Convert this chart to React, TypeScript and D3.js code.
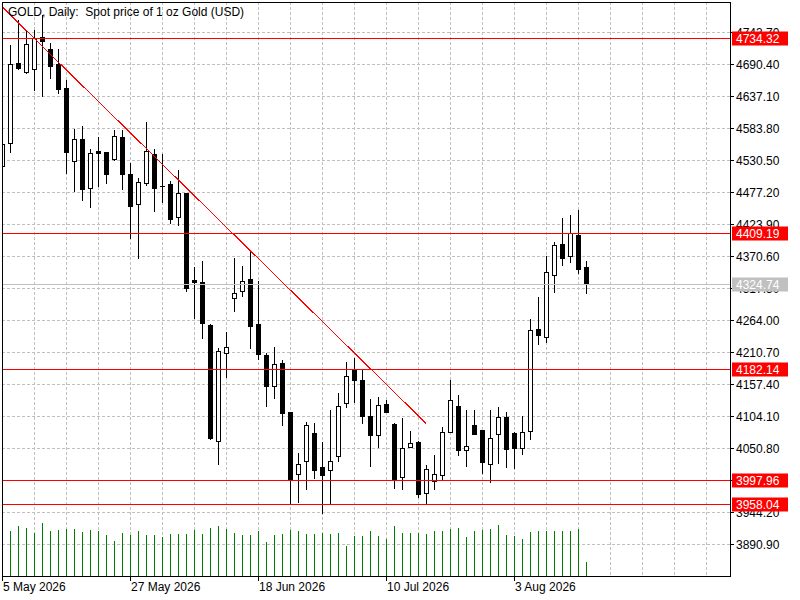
import * as d3 from "d3";

// daily OHLC, first bar = 5 May 2026
const opens = [
  4521.0, 4558.8, 4693.1, 4678.1, 4682.1, 4735.4, 4715.9, 4690.9, 4650.9, 4528.8,
  4566.0, 4483.9, 4546.0, 4544.3, 4532.2, 4569.3, 4508.2, 4457.2, 4493.2, 4541.0,
  4487.7, 4491.0, 4435.6, 4476.5, 4330.6, 4327.3, 4256.7, 4062.5, 4209.0, 4300.6,
  4312.3, 4332.8, 4257.8, 4206.2, 4155.1, 4192.9, 4110.8, 4007.5, 4029.2, 4075.8,
  4019.7, 4014.2, 4038.5, 4125.8, 4181.7, 4164.6, 4104.6, 4073.5, 4124.6, 4091.3,
  4002.5, 4052.5, 4061.3, 3976.9, 3995.8, 4006.8, 4078.5, 4120.8, 4048.5, 4089.1,
  4081.3, 4025.2, 4074.1, 4102.9, 4076.3, 4051.8, 4079.1, 4249.5, 4235.7, 4340.0,
  4391.6, 4371.6, 4406.1, 4352.8,
];
const highs = [
  4564.3, 4724.2, 4765.9, 4747.5, 4748.7, 4774.2, 4728.0, 4718.1, 4665.4, 4584.3,
  4589.3, 4550.5, 4571.0, 4546.0, 4582.1, 4582.1, 4527.7, 4502.2, 4596.0, 4551.0,
  4543.2, 4497.7, 4516.0, 4476.5, 4355.0, 4364.5, 4259.0, 4220.0, 4246.2, 4369.9,
  4356.1, 4382.3, 4331.1, 4211.2, 4221.2, 4199.0, 4112.9, 4044.2, 4096.8, 4095.1,
  4063.5, 4116.3, 4145.1, 4196.2, 4203.4, 4182.4, 4134.1, 4137.9, 4132.4, 4094.6,
  4102.9, 4081.3, 4064.1, 4024.7, 4041.3, 4087.9, 4166.2, 4141.2, 4116.3, 4115.8,
  4081.3, 4116.3, 4121.8, 4113.4, 4080.1, 4106.3, 4268.3, 4304.5, 4372.8, 4396.6,
  4436.6, 4441.1, 4449.4, 4364.5,
];
const lows = [
  4517.7, 4544.8, 4683.1, 4676.4, 4647.6, 4638.1, 4668.1, 4643.1, 4509.8, 4479.9,
  4464.4, 4453.2, 4488.2, 4492.2, 4531.0, 4482.2, 4401.6, 4367.3, 4489.4, 4446.6,
  4461.5, 4425.6, 4422.7, 4313.3, 4268.3, 4235.0, 4066.8, 4024.2, 4170.1, 4279.5,
  4305.0, 4218.3, 4200.0, 4121.8, 4135.1, 4090.1, 3959.2, 3961.9, 3982.5, 4000.8,
  3942.5, 3960.2, 4030.2, 4120.1, 4128.4, 4092.4, 4021.8, 4053.5, 4111.8, 3985.2,
  3983.5, 4052.5, 3970.2, 3958.5, 3982.5, 3998.0, 4078.5, 4039.6, 4021.3, 4075.1,
  4010.2, 3995.2, 4026.8, 4020.2, 4018.5, 4041.8, 4065.8, 4224.0, 4228.4, 4311.6,
  4356.6, 4361.6, 4343.3, 4310.0,
];
const closes = [
  4557.7, 4690.4, 4684.7, 4723.7, 4733.7, 4728.7, 4688.1, 4649.8, 4544.8, 4566.0,
  4482.2, 4542.2, 4542.2, 4508.2, 4571.0, 4507.2, 4454.9, 4493.9, 4546.0, 4484.9,
  4486.9, 4433.2, 4476.1, 4318.3, 4328.3, 4260.0, 4068.5, 4212.4, 4219.0, 4309.0,
  4329.0, 4255.0, 4208.4, 4155.1, 4190.7, 4110.1, 3999.2, 4024.2, 4089.1, 4015.2,
  4006.8, 4029.2, 4120.8, 4171.2, 4165.1, 4105.1, 4073.5, 4122.4, 4111.8, 4000.2,
  4050.8, 4059.1, 3975.2, 4015.8, 4007.5, 4077.5, 4130.8, 4048.5, 4054.1, 4075.1,
  4028.5, 4067.5, 4102.9, 4050.2, 4051.8, 4077.5, 4247.4, 4240.0, 4343.9, 4389.4,
  4368.3, 4408.9, 4349.5, 4324.74,
];
const volumes = [
  44000, 45000, 50000, 48000, 43000, 53000, 45000, 46000, 47000, 47000,
  44000, 46000, 45000, 41000, 35000, 43000, 41000, 45000, 41000, 41000,
  39000, 42000, 42000, 42000, 46000, 42000, 48000, 50000, 47000, 43000,
  41000, 41000, 45000, 34000, 41000, 42000, 46000, 45000, 42000, 42000,
  43000, 42000, 43000, 30000, 40000, 40000, 45000, 40000, 37000, 50000,
  43000, 43000, 43000, 42000, 45000, 45000, 47000, 48000, 39000, 45000,
  46000, 47000, 51000, 41000, 40000, 37000, 44000, 45000, 45000, 45000,
  45000, 45000, 47000, 14000,
];

const priceTicks = [
  "4743.70", "4690.40", "4637.10", "4583.80", "4530.50", "4477.20", "4423.90",
  "4370.60", "4317.30", "4264.00", "4210.70", "4157.40", "4104.10", "4050.80",
  "3997.50", "3944.20", "3890.90",
];
const redLevels = [4734.32, 4409.19, 4182.14, 3997.96, 3958.04];
const bid = 4324.74;
const trendBars = [0, 53];
const trendPrices = [4786.3, 4092.4];
const title = "GOLD, Daily:  Spot price of 1 oz Gold (USD)";

const days = d3.timeDay
  .range(new Date(2026, 4, 5), new Date(2026, 7, 20))
  .filter((d) => d.getDay() % 6 !== 0)
  .slice(0, closes.length);
const fmt = d3.timeFormat("%-d %b %Y");

const left = 2;
const right = 730;
const top = 2;
const bottom = 576;
const font = "'Liberation Sans', Arial, sans-serif";

export default function App() {
  const x = d3.scaleLinear().domain([0, 1]).range([left, left + 8]);
  const y = d3.scaleLinear().domain([3890.9, 4690.4]).range([544.3, 64.3]);
  const vy = d3.scaleLinear().domain([0, d3.max(volumes) as number]).range([bottom, 523]);
  const row = (p: number) => Math.round(y(p)) + 0.5;
  const col = (i: number) => Math.round(x(i)) + 0.5;

  const vGrid = d3.range(4, 92, 4);
  const dateIdx = d3.range(0, closes.length, 16);

  const trend = d3
    .line<number>()
    .x((i) => x(trendBars[i]))
    .y((i) => y(trendPrices[i]));

  return (
    <svg
      width={800}
      height={600}
      style={{ position: "absolute", left: 0, top: 0, background: "#fff" }}
      fontFamily={font}
      fontSize={12}
    >
      <defs>
        <clipPath id="plot">
          <rect x={left + 1} y={top + 1} width={right - left - 1} height={bottom - top - 1} />
        </clipPath>
      </defs>
      <rect width={800} height={600} fill="#fff" />

      {/* grid */}
      <g stroke="#c0c0c0" strokeDasharray="3,2" shapeRendering="crispEdges">
        {priceTicks.map((t) => (
          <line key={t} x1={left} x2={right} y1={row(+t)} y2={row(+t)} />
        ))}
        {vGrid.map((i) => (
          <line key={i} x1={col(i)} x2={col(i)} y1={top} y2={bottom} />
        ))}
      </g>

      <g clipPath="url(#plot)">
        {/* volumes */}
        <g stroke="#008000" shapeRendering="crispEdges">
          {volumes.map((v, i) => (
            <line key={i} x1={col(i)} x2={col(i)} y1={bottom} y2={Math.round(vy(v))} />
          ))}
        </g>

        {/* candles */}
        <g shapeRendering="crispEdges">
          {closes.map((c, i) => {
            const o = opens[i];
            const cx = col(i);
            const yt = row(Math.max(o, c));
            const yb = row(Math.min(o, c));
            const up = c > o;
            return (
              <g key={i}>
                <line x1={cx} x2={cx} y1={row(highs[i])} y2={row(lows[i])} stroke="#000" />
                <rect
                  x={cx - 2}
                  y={yt}
                  width={4}
                  height={Math.max(yb - yt, 0.01)}
                  fill={up ? "#fff" : "#000"}
                  stroke="#000"
                />
              </g>
            );
          })}
        </g>

        {/* horizontal levels */}
        <g shapeRendering="crispEdges">
          <line x1={left} x2={right} y1={row(bid)} y2={row(bid)} stroke="#c0c0c0" />
          {redLevels.map((p) => (
            <line key={p} x1={left} x2={right} y1={row(p)} y2={row(p)} stroke="#ff0000" />
          ))}
        </g>

        {/* trend line */}
        <path d={trend([0, 1]) as string} stroke="#ff0000" fill="none" shapeRendering="crispEdges" />
      </g>

      {/* frame */}
      <rect
        x={left + 0.5}
        y={top + 0.5}
        width={right - left}
        height={bottom - top}
        fill="none"
        stroke="#000"
        shapeRendering="crispEdges"
      />

      {/* price axis */}
      <g>
        {priceTicks.map((t) => (
          <g key={t}>
            <line x1={right} x2={right + 4} y1={row(+t)} y2={row(+t)} stroke="#000" shapeRendering="crispEdges" />
            <text x={736} y={row(+t) + 4} fill="#000">
              {t}
            </text>
          </g>
        ))}
        {[bid, ...redLevels].map((p) => (
          <g key={p}>
            <rect x={732} y={row(p) - 7} width={56} height={14} fill={p === bid ? "#c0c0c0" : "#ff0000"} />
            <text x={736} y={row(p) + 4} fill="#fff">
              {p.toFixed(2)}
            </text>
          </g>
        ))}
      </g>

      {/* time axis */}
      <g>
        {dateIdx.map((i) => (
          <g key={i}>
            <line x1={col(i)} x2={col(i)} y1={bottom} y2={bottom + 5} stroke="#000" shapeRendering="crispEdges" />
            <text x={x(i) + 1} y={591}>
              {fmt(days[i])}
            </text>
          </g>
        ))}
      </g>

      <text x={8} y={16} fill="#000" style={{ whiteSpace: "pre" }}>
        {title}
      </text>
    </svg>
  );
}
